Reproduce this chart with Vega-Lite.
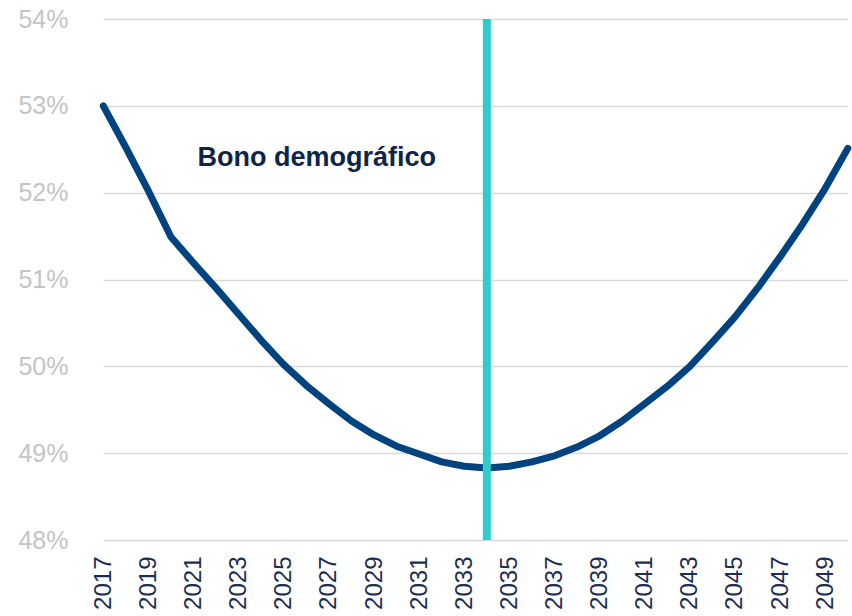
{
  "$schema": "https://vega.github.io/schema/vega-lite/v6.json",
  "autosize": "none",
  "width": 760,
  "height": 521,
  "padding": {"left": 92, "top": 19, "right": 0, "bottom": 76},
  "background": "white",
  "config": {"view": {"stroke": null}, "font": "Liberation Sans"},
  "datasets": {
    "series": [
      {"year": "2017", "v": 53.0},
      {"year": "2018", "v": 52.52},
      {"year": "2019", "v": 52.02},
      {"year": "2020", "v": 51.49},
      {"year": "2021", "v": 51.19},
      {"year": "2022", "v": 50.9},
      {"year": "2023", "v": 50.6},
      {"year": "2024", "v": 50.3},
      {"year": "2025", "v": 50.02},
      {"year": "2026", "v": 49.78},
      {"year": "2027", "v": 49.57},
      {"year": "2028", "v": 49.37},
      {"year": "2029", "v": 49.21},
      {"year": "2030", "v": 49.08},
      {"year": "2031", "v": 48.99},
      {"year": "2032", "v": 48.9},
      {"year": "2033", "v": 48.85},
      {"year": "2034", "v": 48.83},
      {"year": "2035", "v": 48.85},
      {"year": "2036", "v": 48.9},
      {"year": "2037", "v": 48.97},
      {"year": "2038", "v": 49.07},
      {"year": "2039", "v": 49.2},
      {"year": "2040", "v": 49.37},
      {"year": "2041", "v": 49.57},
      {"year": "2042", "v": 49.77},
      {"year": "2043", "v": 50.0},
      {"year": "2044", "v": 50.28},
      {"year": "2045", "v": 50.57},
      {"year": "2046", "v": 50.9},
      {"year": "2047", "v": 51.26},
      {"year": "2048", "v": 51.64},
      {"year": "2049", "v": 52.05},
      {"year": "2050", "v": 52.51}
    ],
    "marker": [{"year": "2034"}],
    "label": [{"year": "2021", "v": 52.4, "t": "Bono demográfico"}]
  },
  "layer": [
    {
      "data": {"name": "series"},
      "mark": {"type": "line", "color": "#00437f", "strokeWidth": 7, "strokeCap": "round", "strokeJoin": "round"},
      "encoding": {
        "x": {
          "field": "year", "type": "ordinal", "scale": {"type": "point", "padding": 0, "range": [11.3, 755.8]},
          "axis": {
            "title": null,
            "values": ["2017","2019","2021","2023","2025","2027","2029","2031","2033","2035","2037","2039","2041","2043","2045","2047","2049"],
            "labelAngle": -90, "labelAlign": "right", "labelBaseline": "middle",
            "labelFontSize": 24, "labelColor": "#1c2e52", "labelPadding": 16,
            "ticks": false, "domain": false, "grid": false
          }
        },
        "y": {
          "field": "v", "type": "quantitative",
          "scale": {"domain": [48, 54], "nice": false, "zero": false},
          "axis": {
            "title": null, "values": [48, 49, 50, 51, 52, 53, 54],
            "labelExpr": "datum.value + '%'",
            "labelFontSize": 25, "labelColor": "#c4c4c4", "labelPadding": 24,
            "ticks": false, "domain": false,
            "grid": true, "gridColor": "#d9d9d9", "gridWidth": 1.5
          }
        }
      }
    },
    {
      "data": {"name": "marker"},
      "mark": {"type": "rule", "color": "#2fcccc", "strokeWidth": 8},
      "encoding": {
        "x": {"field": "year", "type": "ordinal"}
      }
    },
    {
      "data": {"name": "label"},
      "mark": {"type": "text", "align": "left", "baseline": "middle", "dx": 4, "fontSize": 27, "fontWeight": "bold", "color": "#0e2549"},
      "encoding": {
        "x": {"field": "year", "type": "ordinal"},
        "y": {"field": "v", "type": "quantitative"},
        "text": {"field": "t"}
      }
    }
  ]
}
